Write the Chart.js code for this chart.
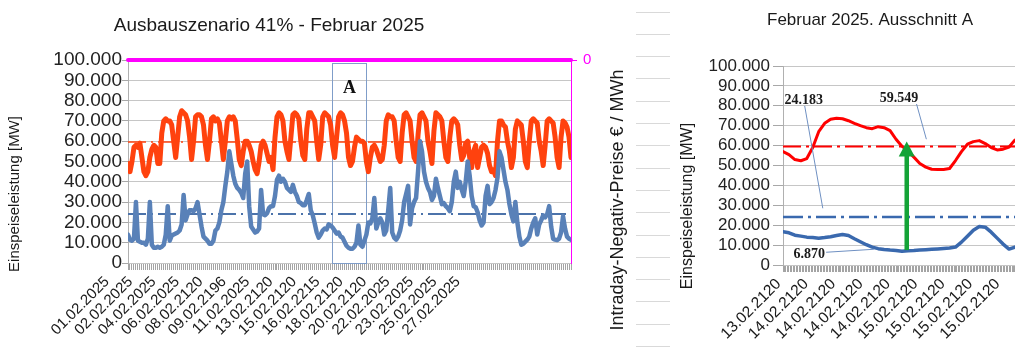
<!DOCTYPE html>
<html lang="de"><head><meta charset="utf-8">
<title>Ausbauszenario 41% - Februar 2025</title>
<script src="https://cdn.jsdelivr.net/npm/chart.js@4.4.1/dist/chart.umd.min.js"></script>
<style>
html,body{margin:0;padding:0;background:#fff;}
body{width:1024px;height:361px;position:relative;overflow:hidden;}
#cL{position:absolute;left:0;top:0;}
#cR{position:absolute;left:636px;top:0;}
</style></head><body>
<canvas id="cL" width="636" height="361"></canvas>
<canvas id="cR" width="388" height="361"></canvas>
<script>
// ---------- DATA ----------
const leftTitle = 'Ausbauszenario 41% - Februar 2025';
const rightTitle = 'Februar 2025. Ausschnitt A';
const yTitle = 'Einspeiseleistung [MW]';
const y1Title = 'Intraday-Negativ-Preise € / MWh';
const boxLabel = 'A';

const leftDateLabels = ['01.02.2025','02.02.2025','04.02.2025','06.02.2025','08.02.2120','09.02.2196','11.02.2025','13.02.2120','15.02.2120','16.02.2215','18.02.2120','20.02.2120','22.02.2025','23.02.2025','25.02.2025','27.02.2025'];
const detailDateLabels = ['13.02.2120','14.02.2120','14.02.2120','14.02.2120','14.02.2120','15.02.2120','15.02.2120','15.02.2120','15.02.2120'];

// Februar 2025, 3-h-Werte (8 pro Tag), MW
const lastMW = [
49000,45000,50000,57000,58000,57000,59000,52000,
45000,43000,45000,52000,56000,58000,57000,49000,
49000,64000,70000,71000,70000,70000,68000,60000,
52000,62000,72000,75000,74000,73000,70000,62000,
51000,60000,72000,73000,73000,72000,68000,58000,
51000,60000,71000,72000,70000,71000,69000,60000,
51000,60000,70000,72000,71000,72000,70000,61000,
51000,48000,55000,60000,60000,58000,55000,50000,
46000,44000,50000,58000,60000,58000,54000,50000,
52000,46000,62000,72000,74000,73000,70000,60000,
55000,51000,62000,73000,74000,73000,71000,60000,
53000,51000,66000,74000,74000,72000,70000,60000,
51000,58000,72000,74000,73000,72000,68000,58000,
52000,62000,72000,74000,73000,70000,64000,52000,
48000,50000,57000,62000,61000,60000,60000,59000,
50000,45000,52000,57000,58000,56000,53000,50000,
51000,58000,70000,73000,72000,72000,70000,60000,
52000,50000,64000,73000,74000,72000,70000,60000,
52000,50000,63000,73000,74000,72000,70000,60000,
55000,49000,65000,74000,73000,72000,70000,60000,
52000,50000,62000,70000,71000,70000,68000,58000,
51000,53000,59000,60000,52000,47000,55000,58000,
47000,52000,57000,58000,57000,54000,48000,45000,
46000,43000,60000,70000,70000,68000,67000,60000,
55000,47000,52000,66000,70000,69000,68000,60000,
50000,47000,60000,70000,71000,70000,69000,60000,
55000,48000,58000,70000,71000,70000,69000,62000,
52000,47000,62000,70000,69000,67000,62000,52000];

const einspeisungMW = [
14000,11500,11000,12000,30000,11000,10500,10000,
10000,9000,12000,30000,9000,7500,7500,8000,
7500,8000,9000,14000,28000,11000,13500,14000,
14500,15000,16000,19000,33500,21000,24000,26000,
26000,25500,27000,30000,24000,18000,13000,12000,
11000,9500,9500,11000,16000,17000,20000,26000,
30000,38000,45000,55000,49000,43000,39000,37000,
36000,34500,32000,44000,50000,28000,18000,16500,
15000,15500,17000,36000,24000,23500,24500,27000,
28000,28000,33000,41000,43000,40000,41500,40000,
37000,36000,35000,38500,35000,33000,30000,29500,
28500,28500,31000,34000,26000,23500,19500,15000,
12500,14000,16000,17000,16500,19000,18500,17500,
16000,14500,15000,13000,12500,10500,8500,7500,
7000,7000,8000,10000,18500,9000,8000,11000,
14000,20000,19500,22000,32000,17000,20000,22000,
20000,14000,16000,26000,37000,15000,12500,11500,
13000,16000,21000,30000,34000,38000,19000,27000,
30000,32000,45000,60000,55000,45000,40000,37000,
35000,31000,33000,41500,37000,33000,29000,29500,
28000,27000,25500,30000,40000,45000,37000,40000,
36000,33000,40000,50000,43000,33000,28000,27500,
25000,21000,18500,20000,33000,38000,29000,30000,
32000,36000,42000,55000,52000,46000,40000,36000,
29000,24000,20500,30000,20000,13000,9000,9500,
10500,11500,13000,17000,20000,22000,14000,19000,
21000,23500,22500,24000,28000,18000,12000,11500,
11300,12000,15000,23000,17000,13000,12000,11500];

const lastMeanMW = 59549;
const einspeisungMeanMW = 24183;
const einspeisungMinMW = 6870;
const preisEurMWh = [0, 0];          // Intraday-Negativ-Preise (keine), Anfang/Ende

// Ausschnitt A (13.02.-15.02.), MW
const detailLastMW = [57000,55500,53000,52400,53500,59000,67000,71200,73200,73700,73500,72500,71200,70000,69000,68500,69500,69000,67500,63200,59700,57300,54200,51000,49200,48100,48000,48000,48500,52500,57000,60700,62000,62500,61000,59000,57800,58200,59300,62800];
const detailEinspeisungMW = [16700,16200,15000,14500,14000,13800,13500,13800,14200,14800,15300,14800,13200,11700,10200,9000,8200,7800,7500,7300,6870,7200,7300,7500,7700,7900,8100,8300,8500,9000,11500,14500,17500,19300,19000,16500,13500,10500,8000,9000];

// ---------- HELPERS ----------
const FONT = "'Liberation Sans', Arial, sans-serif";
const SERIF = "'Liberation Serif', 'DejaVu Serif', serif";
Chart.defaults.font.family = FONT;
Chart.defaults.color = '#222';
const fmtDE = v => String(Math.round(v)).replace(/\B(?=(\d{3})+(?!\d))/g, '.');
const pts = arr => arr.map((v, i) => ({x: i, y: v}));
const flat = (v, n) => [{x: 0, y: v}, {x: n, y: v}];

function hatchAxis(maxV, step) {
  const n = Math.round(maxV / step);
  return {
    type: 'linear', position: 'bottom', min: 0, max: maxV, weight: 0,
    afterBuildTicks: s => { const t = []; for (let i = 0; i <= n; i++) t.push({value: i * step}); s.ticks = t; },
    ticks: {display: false, autoSkip: false},
    grid: {drawOnChartArea: false, drawTicks: true, tickLength: 7, color: '#a4a4a4', lineWidth: 1},
    border: {display: false},
    afterFit: s => { s.height = 7; }
  };
}
function labelAxis(maxV, labels, first, step, offset, size, height) {
  return {
    type: 'linear', position: 'bottom', min: 0, max: maxV, weight: 1,
    afterBuildTicks: s => { s.ticks = labels.map((l, j) => ({value: first + j * step})); },
    ticks: {autoSkip: false, minRotation: 45, maxRotation: 45, labelOffset: offset, padding: 3,
            font: {size: size}, color: '#1a1a1a', callback: (v, i) => labels[i]},
    grid: {display: false, drawTicks: false}, border: {display: false},
    afterFit: s => { s.height = height; }
  };
}
function rotText(ctx, text, x, y, font) {
  ctx.save(); ctx.translate(x, y); ctx.rotate(-Math.PI / 2);
  ctx.font = font; ctx.textAlign = 'center'; ctx.textBaseline = 'middle';
  ctx.fillText(text, 0, 0); ctx.restore();
}

// ---------- LEFT CHART ----------
const nL = lastMW.length - 1;
const boxA = {from: 102.7, to: 119.8, top: 98500};
const leftDecor = {
  id: 'leftDecor',
  beforeDatasetsDraw(chart) {
    const {ctx, scales: {x, y}} = chart;
    const x0 = Math.round(x.getPixelForValue(boxA.from)) + 0.5, x1 = Math.round(x.getPixelForValue(boxA.to)) + 0.5;
    const yT = Math.round(y.getPixelForValue(boxA.top)) + 0.5, yB = Math.round(y.getPixelForValue(0)) + 0.5;
    ctx.save(); ctx.strokeStyle = '#7f9dc9'; ctx.lineWidth = 1;
    ctx.strokeRect(x0, yT, x1 - x0, yB - yT);
    ctx.fillStyle = '#111'; ctx.font = 'bold 18px ' + SERIF; ctx.textAlign = 'center'; ctx.textBaseline = 'alphabetic';
    ctx.fillText(boxLabel, (x0 + x1) / 2, yT + 29);
    ctx.restore();
  },
  afterDraw(chart) {
    const ctx = chart.ctx;
    ctx.save(); ctx.fillStyle = '#1a1a1a';
    ctx.font = '19px ' + FONT; ctx.textAlign = 'center'; ctx.textBaseline = 'alphabetic';
    ctx.fillText(leftTitle, 269, 30.5);
    rotText(ctx, yTitle, 15, 194, '15px ' + FONT);
    rotText(ctx, y1Title, 618.5, 200, '18px ' + FONT);
    ctx.restore();
  }
};

new Chart(document.getElementById('cL'), {
  type: 'line',
  data: {datasets: [
    {label: 'Einspeisung', data: pts(einspeisungMW), xAxisID: 'x', yAxisID: 'y', borderColor: '#5981b8', borderWidth: 4.5},
    {label: 'Last', data: pts(lastMW), xAxisID: 'x', yAxisID: 'y', borderColor: '#ff420e', borderWidth: 5},
    {label: 'Mittel Last', data: flat(lastMeanMW, nL), xAxisID: 'x', yAxisID: 'y', borderColor: '#ff420e', borderWidth: 1.5, borderDash: [18, 5, 2, 5], borderCapStyle: 'butt'},
    {label: 'Mittel Einspeisung', data: flat(einspeisungMeanMW, nL), xAxisID: 'x', yAxisID: 'y', borderColor: '#4c73aa', borderWidth: 2, borderDash: [18, 5, 2, 5], borderCapStyle: 'butt'},
    {label: 'Preis', data: preisEurMWh.map((v, i) => ({x: i * nL, y: v})), xAxisID: 'x', yAxisID: 'y1', borderColor: '#ff00ff', borderWidth: 4, clip: false}
  ]},
  options: {
    responsive: false, animation: false, devicePixelRatio: 1,
    layout: {padding: {top: 60, left: 0, right: 0, bottom: 0}},
    elements: {point: {radius: 0}, line: {tension: 0, borderJoinStyle: 'round', borderCapStyle: 'round'}},
    plugins: {legend: {display: false}, tooltip: {enabled: false}, title: {display: false}},
    scales: {
      x: hatchAxis(nL, 1),
      xl: labelAxis(nL, leftDateLabels, 4.53, 11.78, -30, 15, 91),
      y: {position: 'left', min: 0, max: 100000,
          ticks: {stepSize: 10000, autoSkip: false, font: {size: 19}, color: '#222', padding: 0, callback: v => fmtDE(v)},
          grid: {color: '#c6c6c6', tickLength: 6, tickColor: '#a8a8a8'},
          border: {color: '#b0b0b0'},
          afterFit: s => { s.width = 128; }},
      y1: {position: 'right', min: -1000, max: 0,
           afterBuildTicks: s => { s.ticks = [{value: 0}]; },
           ticks: {font: {size: 15}, color: '#ff00ff', padding: 6, callback: v => String(v)},
           grid: {drawOnChartArea: false, tickLength: 6, color: '#ff00ff'},
           border: {color: '#ff00ff', width: 1},
           afterFit: s => { s.width = 65; }}
    }
  },
  plugins: [leftDecor]
});

// ---------- RIGHT CHART ----------
const nR = detailLastMW.length - 1;
const arrowK = 20.8, arrowTipMW = 62000, arrowBaseMW = 7500;
const rightDecor = {
  id: 'rightDecor',
  beforeDraw(chart) {
    const ctx = chart.ctx;
    ctx.save(); ctx.strokeStyle = '#d9d9d9'; ctx.lineWidth = 1;
    for (let k = 0; k < 16; k++) {
      const yy = Math.round(11.5 + 22.3 * k) + 0.5;
      ctx.beginPath(); ctx.moveTo(0, yy); ctx.lineTo(34, yy); ctx.stroke();
    }
    ctx.restore();
  },
  afterDatasetsDraw(chart) {
    const {ctx, scales: {x, y}} = chart;
    const P = (k, v) => [x.getPixelForValue(k), y.getPixelForValue(v)];
    ctx.save();
    ctx.strokeStyle = '#6f90c2'; ctx.lineWidth = 1;
    [[3.65, 79900, 6.69, 28500], [22.45, 80900, 24.1, 63200], [7.25, 6400, 15.27, 7900]].forEach(l => {
      const a = P(l[0], l[1]), b = P(l[2], l[3]);
      ctx.beginPath(); ctx.moveTo(a[0], a[1]); ctx.lineTo(b[0], b[1]); ctx.stroke();
    });
    const ax = x.getPixelForValue(arrowK), yTip = y.getPixelForValue(arrowTipMW), yBase = y.getPixelForValue(arrowBaseMW);
    ctx.strokeStyle = '#14a337'; ctx.fillStyle = '#14a337'; ctx.lineWidth = 4.5; ctx.lineCap = 'butt';
    ctx.beginPath(); ctx.moveTo(ax, yBase); ctx.lineTo(ax, yTip + 14); ctx.stroke();
    ctx.beginPath(); ctx.moveTo(ax, yTip); ctx.lineTo(ax - 8, yTip + 15); ctx.lineTo(ax + 8, yTip + 15); ctx.closePath(); ctx.fill();
    ctx.fillStyle = '#1a1a1a'; ctx.font = 'bold 14px ' + SERIF; ctx.textAlign = 'center'; ctx.textBaseline = 'alphabetic';
    let p = P(3.49, 80900); ctx.fillText(fmtDE(einspeisungMeanMW), p[0], p[1]);
    p = P(19.5, 81900); ctx.fillText(fmtDE(lastMeanMW), p[0], p[1]);
    p = P(4.4, 3500); ctx.fillText(fmtDE(einspeisungMinMW), p[0], p[1]);
    ctx.restore();
  },
  afterDraw(chart) {
    const ctx = chart.ctx;
    ctx.save(); ctx.fillStyle = '#1a1a1a';
    ctx.font = '17px ' + FONT; ctx.textAlign = 'center'; ctx.textBaseline = 'alphabetic';
    ctx.fillText(rightTitle, 234, 25);
    rotText(ctx, yTitle, 51.5, 206, '16px ' + FONT);
    ctx.restore();
  }
};

new Chart(document.getElementById('cR'), {
  type: 'line',
  data: {datasets: [
    {label: 'Einspeisung', data: pts(detailEinspeisungMW), xAxisID: 'x', yAxisID: 'y', borderColor: '#3a69ae', borderWidth: 3.5},
    {label: 'Last', data: pts(detailLastMW), xAxisID: 'x', yAxisID: 'y', borderColor: '#ff0000', borderWidth: 3},
    {label: 'Mittel Last', data: flat(lastMeanMW, nR), xAxisID: 'x', yAxisID: 'y', borderColor: '#ff0000', borderWidth: 2, borderDash: [18, 5, 3, 5], borderCapStyle: 'butt'},
    {label: 'Mittel Einspeisung', data: flat(einspeisungMeanMW, nR), xAxisID: 'x', yAxisID: 'y', borderColor: '#3a69ae', borderWidth: 2.5, borderDash: [20, 5, 3, 5], borderCapStyle: 'butt'}
  ]},
  options: {
    responsive: false, animation: false, devicePixelRatio: 1,
    layout: {padding: {top: 66, left: 0, right: 6, bottom: 0}},
    elements: {point: {radius: 0}, line: {tension: 0, borderJoinStyle: 'round', borderCapStyle: 'round'}},
    plugins: {legend: {display: false}, tooltip: {enabled: false}, title: {display: false}},
    scales: {
      x: hatchAxis(nR, 0.25),
      xl: labelAxis(nR, detailDateLabels, 0.95, 4.6, -10, 15.5, 89),
      y: {position: 'left', min: 0, max: 100000,
          ticks: {stepSize: 10000, autoSkip: false, font: {size: 17}, color: '#222', padding: 3, callback: v => fmtDE(v)},
          grid: {color: '#c6c6c6', tickLength: 10, tickColor: '#a8a8a8'},
          border: {color: '#b0b0b0'},
          afterFit: s => { s.width = 147; }}
    }
  },
  plugins: [rightDecor]
});
</script>
</body></html>
